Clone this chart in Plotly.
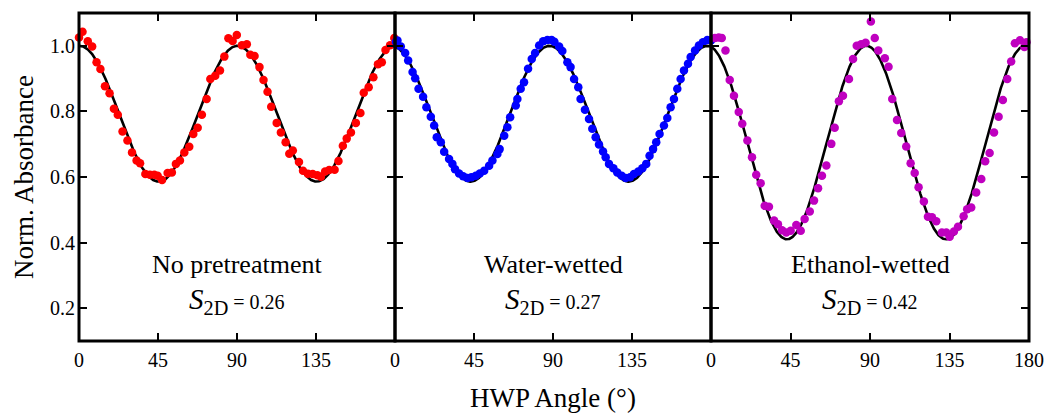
import numpy as np
import plotly.graph_objects as go

# ---------------- data ----------------
ang_none = [0, 2, 5, 7.5, 10, 12.2, 14.8, 17.4, 19.9, 22.1, 24.8, 27.6, 30.2, 32.8, 34.8, 37.8,
            40.4, 42.9, 44.8, 47.3, 50.5, 52.9, 55.2, 57.5, 60, 62.8, 65.1, 67.6, 70, 72.7, 74.8,
            77.6, 80.3, 82.8, 85.1, 87.5, 89.9, 92.8, 95.6, 97.6, 100, 102.8, 105.1, 107.4, 109.5,
            112.6, 115, 117.7, 119.8, 121.8, 125.3, 127.6, 130.4, 133.1, 135.8, 137.8, 140.2,
            142.5, 145.6, 147.8, 150.3, 152.5, 154.9, 157.7, 160.3, 162.2, 165, 167.7, 170.3,
            172.5, 174.6, 177.2, 179.6]
abs_none = [1.025, 1.043, 1.014, 0.998, 0.950, 0.929, 0.877, 0.855, 0.808, 0.790, 0.739, 0.711,
            0.675, 0.650, 0.642, 0.609, 0.607, 0.607, 0.604, 0.591, 0.612, 0.614, 0.640, 0.650,
            0.675, 0.692, 0.731, 0.750, 0.790, 0.838, 0.899, 0.909, 0.925, 0.967, 1.023, 1.015,
            1.033, 1.002, 1.005, 0.973, 0.969, 0.935, 0.896, 0.860, 0.814, 0.765, 0.736, 0.706,
            0.671, 0.681, 0.646, 0.619, 0.610, 0.609, 0.605, 0.601, 0.617, 0.621, 0.622, 0.649,
            0.695, 0.717, 0.736, 0.765, 0.795, 0.857, 0.874, 0.904, 0.944, 0.950, 0.987, 1.002,
            1.024]

ang_water = [0.5, 1.4, 3.3, 5.8, 7.5, 10, 11.5, 13.4, 16, 17.9, 20.4, 22.3, 23.8, 26.1, 28, 30.8,
             32.7, 34.2, 36.5, 38.8, 41.3, 43.5, 46, 48.3, 50.8, 53.6, 55.5, 58.3, 59.6, 62.2, 64,
             65.6, 68.8, 69.7, 71.6, 73.5, 75.8, 77.9, 79.8, 82.1, 84.4, 86.8, 89.2, 90.8, 93.5,
             95.3, 98.2, 100, 102, 104.4, 105.7, 108.2, 110.5, 112.4, 114.3, 116.2, 118.5, 120,
             121.9, 124.4, 126.6, 129.1, 131.4, 133.9, 136.1, 138.6, 140.9, 143.1, 145, 147,
             148.8, 150.7, 153.2, 155.1, 157, 158.9, 160.8, 162.7, 164.6, 166.9, 168.4, 170.9,
             173.1, 175.4, 177.9, 180]
abs_water = [1.012, 1.016, 0.998, 0.978, 0.955, 0.920, 0.901, 0.869, 0.845, 0.813, 0.784, 0.757,
             0.721, 0.706, 0.677, 0.655, 0.640, 0.624, 0.611, 0.602, 0.597, 0.599, 0.604, 0.611,
             0.619, 0.634, 0.650, 0.670, 0.685, 0.726, 0.752, 0.782, 0.818, 0.838, 0.869, 0.889,
             0.930, 0.960, 0.978, 1.001, 1.014, 1.018, 1.018, 1.012, 0.998, 0.984, 0.950, 0.935,
             0.899, 0.874, 0.838, 0.805, 0.777, 0.747, 0.721, 0.699, 0.678, 0.660, 0.640, 0.627,
             0.614, 0.604, 0.597, 0.599, 0.609, 0.617, 0.627, 0.640, 0.665, 0.685, 0.706, 0.731,
             0.757, 0.780, 0.813, 0.838, 0.869, 0.899, 0.925, 0.945, 0.966, 0.986, 1.001, 1.011,
             1.018, 1.016]

ang_eth = [2.2, 4.4, 6.1, 8.2, 10.6, 13, 15.7, 17.7, 20.6, 23.2, 25.6, 28.1, 30.4, 32.8, 35.7,
           37.9, 40.2, 42.6, 45.1, 48.3, 50.8, 53, 55.9, 58.3, 60.6, 62.8, 65.3, 68.1, 70, 72.4,
           74.7, 78.1, 80.4, 82.5, 85, 87.5, 90.5, 92.7, 94.7, 98.4, 100.5, 102.6, 105.3, 107.7,
           110.5, 113, 115.3, 117.5, 120.5, 122.8, 125.1, 127.5, 130.7, 133.2, 135.1, 137.5,
           139.8, 143, 145, 147.3, 150.1, 153, 155.2, 157.7, 160.2, 162.8, 165.2, 167.7, 169.9,
           172, 174.9, 177.4, 178.6]
abs_eth = [1.024, 1.025, 1.024, 0.986, 0.896, 0.848, 0.798, 0.762, 0.711, 0.660, 0.607, 0.581,
           0.512, 0.509, 0.467, 0.456, 0.438, 0.431, 0.436, 0.454, 0.436, 0.472, 0.495, 0.528,
           0.566, 0.604, 0.635, 0.701, 0.750, 0.831, 0.848, 0.899, 0.960, 1.000, 1.005, 1.009,
           1.074, 1.024, 0.986, 0.962, 0.936, 0.838, 0.774, 0.734, 0.693, 0.642, 0.612, 0.569,
           0.525, 0.479, 0.477, 0.465, 0.431, 0.431, 0.418, 0.434, 0.448, 0.480, 0.502, 0.507,
           0.553, 0.594, 0.648, 0.673, 0.736, 0.784, 0.835, 0.899, 0.952, 1.008, 1.017, 0.996,
           1.011]

# cosine fit parameters (max / min / phase in degrees of fitted curve)
fit_max = [1.0, 1.0, 1.0]
fit_min = [0.586, 0.586, 0.41]
fit_phase = [0.3, -2.0, -2.0]

labels = ["No pretreatment", "Water-wetted", "Ethanol-wetted"]
s2d = ["0.26", "0.27", "0.42"]
colors = ["#ff0000", "#0000ff", "#bf00bf"]

x_ticks = [0, 45, 90, 135, 180]
y_ticks = [0.2, 0.4, 0.6, 0.8, 1.0]

angles = [ang_none, ang_water, ang_eth]
values = [abs_none, abs_water, abs_eth]

# ---------------- figure ----------------
FONT = "Liberation Serif"
fig = go.Figure()
theta = np.linspace(0, 180, 721)
domains = [[0, 316 / 950], [316 / 950, 632 / 950], [632 / 950, 1]]

for i in range(3):
    xa = "x" if i == 0 else f"x{i+1}"
    ya = "y" if i == 0 else f"y{i+1}"
    c = (fit_max[i] + fit_min[i]) / 2
    a = (fit_max[i] - fit_min[i]) / 2
    fit = c + a * np.cos(np.radians(4 * (theta - fit_phase[i])))
    fig.add_trace(go.Scatter(x=theta, y=fit, mode="lines", line=dict(color="black", width=2.6),
                             xaxis=xa, yaxis=ya, showlegend=False, hoverinfo="skip"))
    fig.add_trace(go.Scatter(x=angles[i], y=values[i], mode="markers",
                             marker=dict(color=colors[i], size=8.5, line=dict(width=0)),
                             xaxis=xa, yaxis=ya, showlegend=False, cliponaxis=False))
    fig.add_annotation(x=90, y=0.334, xref=xa, yref=ya, text=labels[i], showarrow=False,
                       font=dict(family=FONT, size=26, color="black"))
    fig.add_annotation(x=90, y=0.222, xref=xa, yref=ya,
                       text=f"<i>S</i><sub>2D</sub><span style='font-size:20px'> = {s2d[i]}</span>",
                       showarrow=False, font=dict(family=FONT, size=29, color="black"))
    # panel frame
    fig.add_shape(type="rect", xref=f"{xa} domain", yref=f"{ya} domain", x0=0, x1=1, y0=0, y1=1,
                  line=dict(color="black", width=3), layer="above")

    tv = x_ticks if i == 2 else x_ticks[:-1]
    xaxis = dict(domain=domains[i], range=[0, 180], anchor=ya, tickmode="array", tickvals=tv,
                 ticktext=[str(v) for v in tv], ticks="inside", ticklen=8, tickwidth=2.2,
                 tickcolor="black", showline=False, mirror="ticks", showgrid=False,
                 zeroline=False, ticklabelstandoff=5, automargin=False,
                 tickfont=dict(family=FONT, size=20, color="black"))
    yaxis = dict(range=[0.1, 1.1], anchor=xa, tickmode="array", tickvals=y_ticks,
                 ticktext=[f"{v:.1f}" for v in y_ticks], ticks="inside", ticklen=8, tickwidth=2.2,
                 tickcolor="black", showline=False, mirror="ticks", showgrid=False,
                 zeroline=False, showticklabels=(i == 0), ticklabelstandoff=3, automargin=False,
                 tickfont=dict(family=FONT, size=20, color="black"))
    if i == 0:
        yaxis["title"] = dict(text="Norm. Absorbance", font=dict(family=FONT, size=27, color="black"),
                              standoff=8)
    else:
        yaxis["matches"] = "y"
    if i == 1:
        xaxis["title"] = dict(text="HWP Angle (°)", font=dict(family=FONT, size=27, color="black"),
                              standoff=20)
    fig.update_layout(**{("xaxis" if i == 0 else f"xaxis{i+1}"): xaxis,
                         ("yaxis" if i == 0 else f"yaxis{i+1}"): yaxis})

fig.update_layout(width=1047, height=413, margin=dict(l=79, r=18, t=13, b=72),
                  paper_bgcolor="white", plot_bgcolor="white",
                  font=dict(family=FONT, color="black"))
fig.write_html("out.html")
